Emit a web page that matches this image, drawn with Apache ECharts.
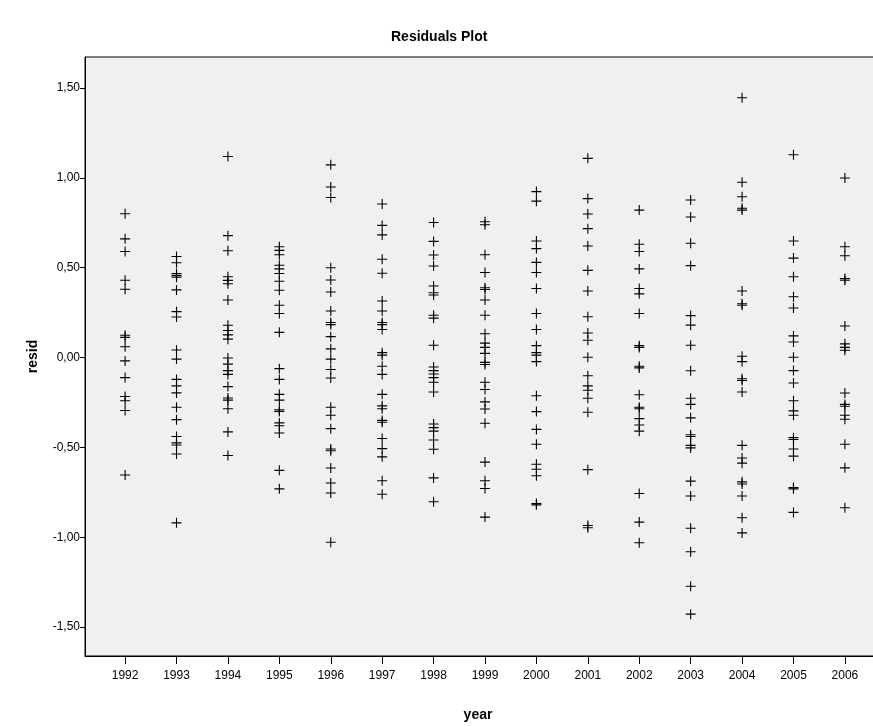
<!DOCTYPE html>
<html>
<head>
<meta charset="utf-8">
<script src="https://cdn.jsdelivr.net/npm/echarts@6/dist/echarts.min.js"></script>
<style>html,body{margin:0;padding:0;background:#fff;overflow:hidden}#c{width:895px;height:727px}</style>
</head>
<body>
<div id="c"></div>
<script>
const years = [1992,1993,1994,1995,1996,1997,1998,1999,2000,2001,2002,2003,2004,2005,2006];
const yTicks = [-1.5,-1.0,-0.5,0,0.5,1.0,1.5];

const r1992 = [0.80,0.66,0.59,0.43,0.38,0.124,0.112,0.06,-0.019,-0.112,-0.217,-0.241,-0.295,-0.654];
const r1993 = [0.562,0.527,0.467,0.457,0.447,0.376,0.255,0.225,0.042,-0.009,-0.122,-0.158,-0.197,-0.277,-0.346,-0.44,-0.475,-0.487,-0.537,-0.92];
const r1994 = [1.118,0.678,0.594,0.449,0.429,0.41,0.32,0.179,0.15,0.126,0.102,-0.003,-0.037,-0.073,-0.094,-0.162,-0.225,-0.237,-0.285,-0.414,-0.545];
const r1995 = [0.616,0.596,0.572,0.513,0.493,0.467,0.424,0.374,0.291,0.245,0.14,-0.062,-0.122,-0.205,-0.237,-0.291,-0.30,-0.364,-0.38,-0.42,-0.628,-0.731];
const r1996 = [1.072,0.949,0.89,0.499,0.431,0.364,0.259,0.195,0.183,0.116,0.048,-0.009,-0.067,-0.114,-0.277,-0.321,-0.396,-0.509,-0.519,-0.615,-0.698,-0.754,-1.028];
const r1997 = [0.854,0.735,0.682,0.547,0.469,0.314,0.259,0.195,0.183,0.156,0.027,0.013,-0.049,-0.094,-0.205,-0.269,-0.285,-0.35,-0.36,-0.451,-0.507,-0.553,-0.686,-0.761];
const r1998 = [0.751,0.646,0.57,0.509,0.398,0.36,0.348,0.235,0.219,0.068,-0.053,-0.073,-0.092,-0.112,-0.138,-0.192,-0.37,-0.39,-0.41,-0.459,-0.511,-0.67,-0.803];
const r1999 = [0.755,0.739,0.572,0.473,0.388,0.378,0.32,0.235,0.132,0.08,0.056,0.023,-0.027,-0.039,-0.138,-0.178,-0.247,-0.287,-0.366,-0.582,-0.686,-0.729,-0.888];
const r2000 = [0.923,0.87,0.648,0.606,0.529,0.473,0.384,0.245,0.156,0.066,0.027,0.013,-0.023,-0.213,-0.301,-0.40,-0.483,-0.594,-0.622,-0.658,-0.813,-0.82];
const r2001 = [1.108,0.884,0.798,0.717,0.62,0.485,0.37,0.227,0.136,0.096,0.001,-0.102,-0.158,-0.182,-0.227,-0.305,-0.624,-0.935,-0.947];
const r2002 = [0.82,0.63,0.59,0.493,0.384,0.354,0.245,0.066,0.056,-0.049,-0.058,-0.207,-0.277,-0.285,-0.34,-0.376,-0.41,-0.757,-0.916,-1.031];
const r2003 = [0.876,0.782,0.636,0.511,0.233,0.18,0.068,-0.074,-0.227,-0.261,-0.336,-0.43,-0.44,-0.489,-0.503,-0.688,-0.771,-0.95,-1.081,-1.273,-1.428];
const r2004 = [1.445,0.975,0.894,0.83,0.82,0.37,0.299,0.291,0.007,-0.023,-0.118,-0.128,-0.192,-0.489,-0.559,-0.588,-0.692,-0.704,-0.771,-0.892,-0.976];
const r2005 = [1.128,0.648,0.553,0.449,0.338,0.275,0.12,0.086,0.001,-0.073,-0.142,-0.241,-0.297,-0.321,-0.446,-0.456,-0.509,-0.549,-0.724,-0.731,-0.862];
const r2006 = [0.999,0.616,0.566,0.439,0.43,0.175,0.076,0.056,0.04,-0.198,-0.261,-0.271,-0.321,-0.344,-0.483,-0.614,-0.836];

const residsByYear = [r1992,r1993,r1994,r1995,r1996,r1997,r1998,r1999,r2000,r2001,r2002,r2003,r2004,r2005,r2006];

const points = [];
years.forEach((yr, i) => residsByYear[i].forEach(v => points.push([yr, v])));

const plus = 'path://M4.45,0 H5.55 V4.45 H10 V5.55 H5.55 V10 H4.45 V5.55 H0 V4.45 H4.45 Z';
const fontFam = '"Liberation Sans", Arial, sans-serif';

const chart = echarts.init(document.getElementById('c'), null, {renderer: 'canvas'});
chart.setOption({
  animation: false,
  backgroundColor: '#ffffff',
  title: {
    text: 'Residuals Plot',
    left: 386,
    top: 25,
    textStyle: {fontFamily: fontFam, fontSize: 14, fontWeight: 'bold', color: '#000'}
  },
  grid: {
    left: 85, width: 800, top: 57, bottom: 70,
    show: true, backgroundColor: '#f0f0f0', borderColor: '#000', borderWidth: 1
  },
  xAxis: {
    type: 'value',
    min: 1991.22, max: 2006.78,
    name: 'year', nameLocation: 'middle', nameGap: 52,
    nameTextStyle: {fontFamily: fontFam, fontSize: 14, fontWeight: 'bold', color: '#000', padding: [0, 14, 0, 0]},
    splitLine: {show: false},
    axisLine: {show: true, onZero: false, lineStyle: {color: '#000', width: 1}},
    axisTick: {show: true, length: 8, lineStyle: {color: '#000'}, customValues: years},
    axisLabel: {customValues: years, color: '#000', fontFamily: fontFam, fontSize: 12, margin: 14, formatter: v => String(v)}
  },
  yAxis: {
    type: 'value',
    min: -1.661, max: 1.672,
    name: 'resid', nameLocation: 'middle', nameGap: 45, nameRotate: 90,
    nameTextStyle: {fontFamily: fontFam, fontSize: 14, fontWeight: 'bold', color: '#000'},
    splitLine: {show: false},
    axisLine: {show: true, onZero: false, lineStyle: {color: '#000', width: 1}},
    axisTick: {show: true, length: 5, lineStyle: {color: '#000'}, customValues: yTicks},
    axisLabel: {customValues: yTicks, color: '#000', fontFamily: fontFam, fontSize: 12, margin: 5,
      formatter: v => v.toFixed(2).replace('.', ',')}
  },
  series: [{
    type: 'scatter',
    data: points,
    symbol: plus,
    symbolSize: 10,
    itemStyle: {color: '#000', opacity: 1},
    emphasis: {disabled: true}
  }]
});
</script>
</body>
</html>
